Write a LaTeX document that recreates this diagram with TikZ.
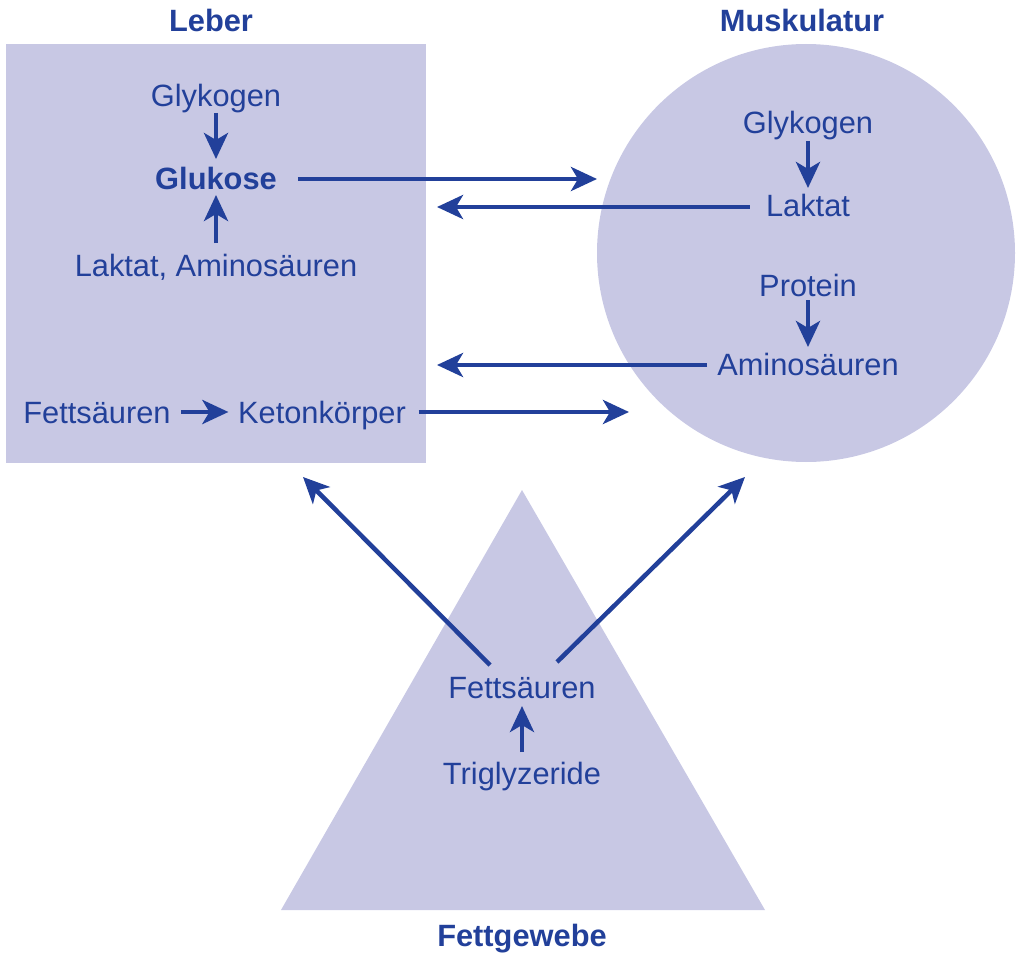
\documentclass[tikz,border=0pt]{standalone}
\usepackage{fontspec}
\setmainfont{Liberation Sans}
\usetikzlibrary{arrows.meta,calc}
\definecolor{organ}{RGB}{200,200,228}
\definecolor{ink}{RGB}{34,64,154}
\tikzset{
  lbl/.style={text=ink,font=\fontsize{30.8}{36}\selectfont,inner sep=0pt},
  ttl/.style={text=ink,font=\fontsize{30.8}{36}\selectfont\bfseries,inner sep=0pt},
  arr/.style={draw=ink,line width=4.5pt,-{Stealth[length=26pt,width=24pt,inset=7pt]}},
  organfill/.style={fill=organ,draw=none}
}
\begin{document}
\begin{tikzpicture}[x=1pt,y=-1pt]
\useasboundingbox (0,0) rectangle (1018,955);
% shapes
\fill[organfill] (6,44) rectangle (426,463);
\fill[organfill] (806,253) circle[radius=209];
\fill[organfill] (522,490) -- (765,910) -- (281,910) -- cycle;
% titles
\node[ttl] (tL) at (211,20) {Leber};
\node[ttl] (tM) at (802,20) {Muskulatur};
\node[ttl] (tF) at (522,939) {Fettgewebe};
% liver
\node[lbl] (lgly) at (216,99) {Glykogen};
\node[ttl] (lglu) at (216,178) {Glukose};
\node[lbl] (llak) at (216,267) {Laktat, Aminosäuren};
\node[lbl] (lfs) at (97,413) {Fettsäuren};
\node[lbl] (lket) at (322,416) {Ketonkörper};
% muscle
\node[lbl] (mgly) at (808,126) {Glykogen};
\node[lbl] (mlak) at (808,205) {Laktat};
\node[lbl] (mpro) at (808,285) {Protein};
\node[lbl] (mami) at (808,364) {Aminosäuren};
% fat
\node[lbl] (ffs) at (522,688) {Fettsäuren};
\node[lbl] (ftri) at (522,777) {Triglyzeride};
% free ends
\coordinate (mIn1) at (597,179);
\coordinate (lIn1) at (437,207);
\coordinate (lIn2) at (437,365);
\coordinate (mIn2) at (629,412);
\coordinate (lIn3) at (303,477);
\coordinate (mIn3) at (745,477);
\coordinate (fOut1) at (490,665);
\coordinate (fOut2) at (557,662);
% arrows
\draw[arr] ([yshift=-14pt]lgly.center) -- ([yshift=19pt]lglu.center);
\draw[arr] ([yshift=24pt]llak.center) -- ([yshift=-17pt]lglu.center);
\draw[arr] ([xshift=10.5pt,yshift=1pt]lfs.east) -- ([xshift=-9.5pt,yshift=4pt]lket.west);
\draw[arr] ([xshift=21pt,yshift=-1pt]lglu.east) -- (mIn1);
\draw[arr] ([xshift=-16pt,yshift=-2pt]mlak.west) -- (lIn1);
\draw[arr] ([xshift=-10pt,yshift=-1pt]mami.west) -- (lIn2);
\draw[arr] ([xshift=12.5pt,yshift=4pt]lket.east) -- (mIn2);
\draw[arr] ([yshift=-15pt]mgly.center) -- ([yshift=17pt]mlak.center);
\draw[arr] ([yshift=-15pt]mpro.center) -- ([yshift=17pt]mami.center);
\draw[arr] ([yshift=25pt]ftri.center) -- ([yshift=-18pt]ffs.center);
\draw[arr] (fOut1) -- (lIn3);
\draw[arr] (fOut2) -- (mIn3);
\end{tikzpicture}
\end{document}
